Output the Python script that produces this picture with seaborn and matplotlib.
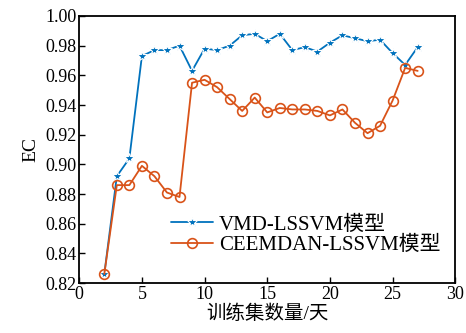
import matplotlib
matplotlib.use("Agg")
import matplotlib.pyplot as plt
import seaborn as sns
import pandas as pd

days = list(range(2, 28))
vmd = [0.826, 0.892, 0.904, 0.973, 0.977, 0.977, 0.980, 0.963, 0.978, 0.977,
       0.980, 0.987, 0.988, 0.983, 0.988, 0.977, 0.979, 0.976, 0.982, 0.987,
       0.985, 0.983, 0.984, 0.975, 0.967, 0.979]
ceemdan = [0.826, 0.886, 0.886, 0.899, 0.892, 0.881, 0.878, 0.955, 0.957, 0.952,
           0.944, 0.936, 0.945, 0.935, 0.938, 0.937, 0.937, 0.936, 0.933, 0.937,
           0.928, 0.921, 0.926, 0.943, 0.965, 0.963]
series_names = ["VMD-LSSVM模型", "CEEMDAN-LSSVM模型"]
x_label = "训练集数量/天"
y_label = "EC"

sns.set_theme(style="white")
plt.rcParams['font.family'] = ['Liberation Serif', 'Noto Sans CJK SC']

df = pd.DataFrame({"x": days * 2,
                   "y": vmd + ceemdan,
                   "s": [series_names[0]] * len(days) + [series_names[1]] * len(days)})

fig = plt.figure(figsize=(4.66, 3.33), dpi=100)
ax = fig.add_axes([0.17, 0.15, 0.807, 0.802])

sns.lineplot(data=df[df.s == series_names[0]], x="x", y="y", ax=ax, color="#0072BD",
             marker="*", markersize=7, markeredgewidth=0.8, linewidth=1.3,
             label=series_names[0])
sns.lineplot(data=df[df.s == series_names[1]], x="x", y="y", ax=ax, color="#D95319",
             marker="o", markersize=7, markerfacecolor="none", markeredgecolor="#D95319",
             markeredgewidth=1.2, linewidth=1.3, label=series_names[1])

ax.set_xlim(0, 30)
ax.set_ylim(0.82, 1.00)
ax.set_xticks(range(0, 31, 5))
ax.set_yticks([0.82 + 0.02 * i for i in range(10)])
ax.set_yticklabels([f"{0.82 + 0.02 * i:.2f}" for i in range(10)])
ax.tick_params(direction="in", length=4, width=1, labelsize=13, colors="black",
               bottom=True, left=True, top=False, right=False, pad=2)
for sp in ax.spines.values():
    sp.set_color("black")
    sp.set_linewidth(1.3)
ax.set_xlabel(x_label, fontsize=14, labelpad=1, color="black")
ax.set_ylabel(y_label, fontsize=14, labelpad=4, color="black")

leg = ax.legend(loc="lower right", frameon=False, fontsize=15, handlelength=2.0,
                borderaxespad=0.3, labelspacing=0.05, handletextpad=0.3,
                bbox_to_anchor=(1.0, 0.05))
for t in leg.get_texts():
    t.set_color("black")

fig.savefig("out.png", dpi=100)
